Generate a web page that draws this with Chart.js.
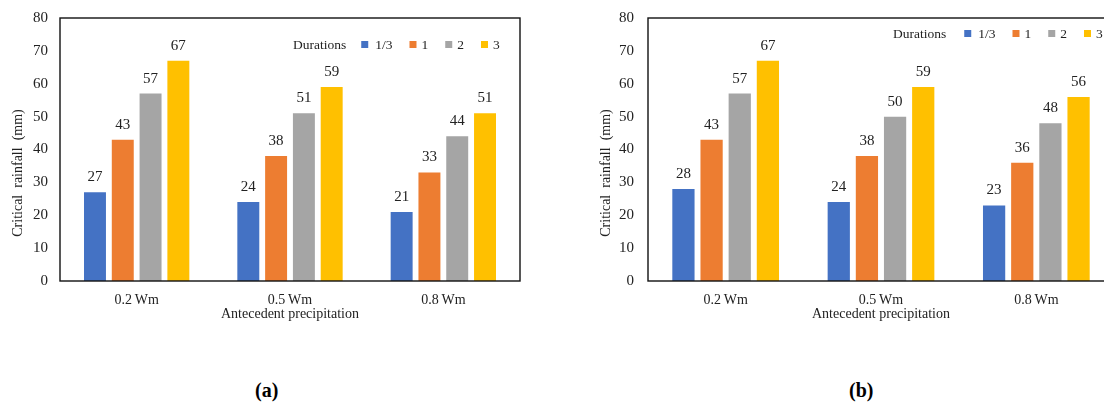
<!DOCTYPE html>
<html>
<head>
<meta charset="utf-8">
<script src="https://cdn.jsdelivr.net/npm/chart.js@4.4.1/dist/chart.umd.min.js"></script>
<style>
  html, body { margin: 0; padding: 0; background: #fff; overflow: hidden; }
  body { width: 1104px; height: 404px; position: relative; }
  canvas { position: absolute; top: 0; }
  #chartA { left: 0; }
  #chartB { left: 588px; }
  .cap { position: absolute; top: 379px; font: bold 20px 'Liberation Serif', serif; color: #000; }
</style>
</head>
<body>
<canvas id="chartA" width="560" height="330"></canvas>
<canvas id="chartB" width="566" height="330"></canvas>
<div class="cap" style="left:255px">(a)</div>
<div class="cap" style="left:849px">(b)</div>
<script>
const categories = ['0.2\u2009Wm', '0.5\u2009Wm', '0.8\u2009Wm'];
const durations = ['1/3', '1', '2', '3'];
const colors = ['#4472C4', '#ED7D31', '#A5A5A5', '#FFC000'];
const yTitle = 'Critical  rainfall  (mm)';

// panel (a)
const a13 = [27, 24, 21];
const a1 = [43, 38, 33];
const a2 = [57, 51, 44];
const a3 = [67, 59, 51];

// panel (b)
const b13 = [28, 24, 23];
const b1 = [43, 38, 36];
const b2 = [57, 50, 48];
const b3 = [67, 59, 56];

const serif = 'Liberation Serif';

// frame, value labels, y title (sits below the middle) and the inline legend
const extras = {
  id: 'extras',
  afterDatasetsDraw(chart, args, opts) {
    const ctx = chart.ctx;
    const area = chart.chartArea;
    ctx.save();
    ctx.font = '15px ' + serif;
    ctx.fillStyle = '#222';
    ctx.textAlign = 'center';
    ctx.textBaseline = 'middle';
    chart.data.datasets.forEach((ds, i) => {
      chart.getDatasetMeta(i).data.forEach((bar, j) => {
        ctx.fillText(ds.data[j], bar.x, bar.y - 15);
      });
    });

    ctx.strokeStyle = '#111';
    ctx.lineWidth = 1.4;
    ctx.strokeRect(area.left, area.top, area.right - area.left, area.bottom - area.top);

    ctx.save();
    ctx.translate(area.left - 42, 173);
    ctx.rotate(-Math.PI / 2);
    ctx.font = '14px ' + serif;
    ctx.fillText(yTitle, 0, 0);
    ctx.restore();

    // legend
    ctx.font = '13.5px ' + serif;
    ctx.textAlign = 'left';
    ctx.fillStyle = '#222';
    let x = area.left + opts.x;
    const y = area.top + opts.y;
    ctx.fillText('Durations', x, y);
    x += ctx.measureText('Durations').width + opts.gap0;
    chart.data.datasets.forEach((ds, i) => {
      ctx.fillStyle = ds.backgroundColor;
      ctx.fillRect(x, y - 4, 7, 7);
      ctx.fillStyle = '#222';
      const off = i === 0 ? opts.textOff + 2 : opts.textOff;
      ctx.fillText(ds.label, x + off, y);
      x += off + ctx.measureText(ds.label).width + opts.after;
    });
    ctx.restore();
  }
};

function makeChart(id, series, legendPos, tickPad) {
  return new Chart(document.getElementById(id), {
    type: 'bar',
    data: {
      labels: categories,
      datasets: series.map((d, i) => ({
        label: durations[i],
        data: d,
        backgroundColor: colors[i],
        categoryPercentage: 0.725,
        barPercentage: 0.79
      }))
    },
    options: {
      responsive: false,
      animation: false,
      layout: { padding: { top: 18, right: 40, left: 0, bottom: 0 } },
      plugins: {
        legend: { display: false },
        tooltip: { enabled: false },
        extras: legendPos
      },
      scales: {
        x: {
          grid: { display: false, drawTicks: false },
          border: { display: false },
          ticks: { padding: 11, color: '#222', font: { family: serif, size: 14 } },
          title: {
            display: true,
            text: 'Antecedent precipitation',
            color: '#222',
            font: { family: serif, size: 14 },
            padding: { top: 0, bottom: 7 }
          },
          afterFit(scale) {
            scale.height = 49;
            scale.paddingLeft = 0;
            scale.paddingRight = 0;
          }
        },
        y: {
          min: 0,
          max: 80,
          grid: { display: false, drawTicks: false },
          border: { display: false },
          ticks: { stepSize: 10, padding: tickPad, color: '#222', font: { family: serif, size: 15 } },
          afterFit(scale) {
            scale.width = 60;
            scale.paddingTop = 0;
            scale.paddingBottom = 0;
          }
        }
      }
    },
    plugins: [extras]
  });
}

makeChart('chartA', [a13, a1, a2, a3], { x: 233, y: 27, gap0: 15, textOff: 12, after: 17 }, 12);
makeChart('chartB', [b13, b1, b2, b3], { x: 245, y: 16, gap0: 18, textOff: 12, after: 17 }, 14);
</script>
</body>
</html>
